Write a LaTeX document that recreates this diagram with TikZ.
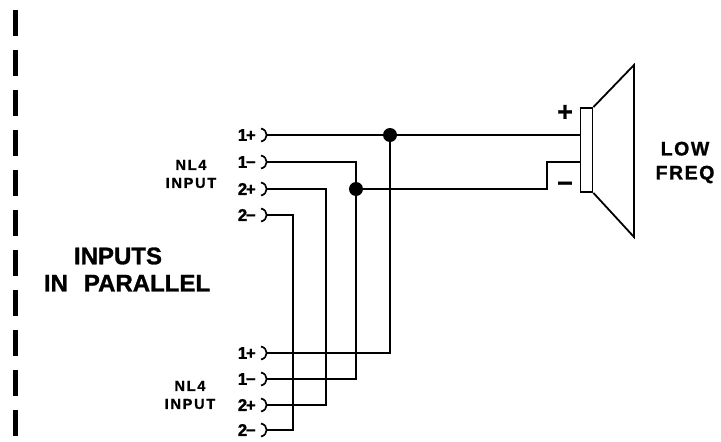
\documentclass[tikz,border=0pt]{standalone}
\usepackage{fontspec}
\setmainfont{Liberation Sans}[BoldFeatures={FakeBold=1.2}]
\usetikzlibrary{positioning, calc}

\tikzset{
    wire/.style={line width=1.8pt},
    joint/.style={circle, fill, inner sep=0pt, minimum size=14pt},
    pinlabel/.style={font=\fontsize{17}{16}\selectfont\bfseries\addfontfeature{FakeBold=2.5, LetterSpace=-8}, inner sep=0pt},
    jacklabel/.style={font=\fontsize{14.5}{18}\selectfont\bfseries\addfontfeature{FakeBold=1.8, LetterSpace=12}, align=center, inner sep=0pt},
    bigtext/.style={font=\fontsize{24}{28}\selectfont\bfseries\addfontfeature{FakeBold=1.8}, inner sep=0pt},
    polarity/.style={font=\fontsize{27}{27}\selectfont\bfseries\addfontfeature{FakeBold=2.5}, inner sep=0pt},
    jack/.pic={\draw[line width=1.7pt] (-6,-6.5) .. controls (1.5,-5) and (1.5,5) .. (-6,6.5);}
}

\begin{document}
\begin{tikzpicture}[x=1pt, y=-1pt]
    \useasboundingbox (0,0) rectangle (721,442);

    % panel edge
    \draw[line width=5pt, dash pattern=on 26pt off 14pt] (15,10) -- (15,437);

    % jack pins
    \coordinate (a1p) at (267,135);
    \coordinate (a1m) at (267,162);
    \coordinate (a2p) at (267,189);
    \coordinate (a2m) at (267,215);
    \coordinate (b1p) at (267,353);
    \coordinate (b1m) at (267,379);
    \coordinate (b2p) at (267,405);
    \coordinate (b2m) at (267,430);

    \pic at (a1p) {jack}; \pic at (a1m) {jack}; \pic at (a2p) {jack}; \pic at (a2m) {jack};
    \pic at (b1p) {jack}; \pic at (b1m) {jack}; \pic at (b2p) {jack}; \pic at (b2m) {jack};

    \node[pinlabel, left=11pt of a1p] (la1p) {1+};
    \node[pinlabel, left=11pt of a1m] (la1m) {1−};
    \node[pinlabel, left=11pt of a2p] (la2p) {2+};
    \node[pinlabel, left=11pt of a2m] (la2m) {2−};
    \node[pinlabel, left=11pt of b1p] (lb1p) {1+};
    \node[pinlabel, left=11pt of b1m] (lb1m) {1−};
    \node[pinlabel, left=11pt of b2p] (lb2p) {2+};
    \node[pinlabel, left=11pt of b2m] (lb2m) {2−};

    \node[jacklabel] (jackA) at (191,174) {NL4\\INPUT};
    \node[jacklabel] (jackB) at (190,395) {NL4\\INPUT};

    \node[bigtext] (inputs) at (118,256) {INPUTS};
    \node[bigtext, below=10pt of inputs, xshift=9pt] (parallel) {IN\hspace{16pt}PARALLEL};

    % speaker
    \node[draw, line width=1.8pt, minimum width=12pt, minimum height=84pt, inner sep=0pt] (coil) at (586.5,150) {};
    \coordinate (conetop) at (634,65);
    \coordinate (conebot) at (634,237);
    \draw[wire] (coil.north east) -- (conetop) -- (conebot) -- (coil.south east);
    \coordinate (minus) at (coil.west |- 0,162);

    \node[polarity] (plus) at (565,113) {+};
    \node[polarity] (neg) at (565,187) {−};
    \node[font=\fontsize{19.5}{24}\selectfont\bfseries\addfontfeature{FakeBold=1.8, LetterSpace=8}, align=center, inner sep=0pt] (lowfreq) at (685,162.5) {LOW\\FREQ};

    % wiring
    \node[joint] (dot1) at (390,135) {};
    \node[joint] (dot2) at (356,189) {};
    \draw[wire] (a1p) -- (coil.west |- a1p);
    \draw[wire] (dot1) |- (b1p);
    \draw[wire] (a1m) -| (dot2);
    \draw[wire] (dot2) |- (b1m);
    \draw[wire] (dot2) -| ([xshift=-33pt]minus) -- (minus);
    \draw[wire] (a2p) -- ++(59,0) |- (b2p);
    \draw[wire] (a2m) -- ++(26,0) |- (b2m);
\end{tikzpicture}
\end{document}
